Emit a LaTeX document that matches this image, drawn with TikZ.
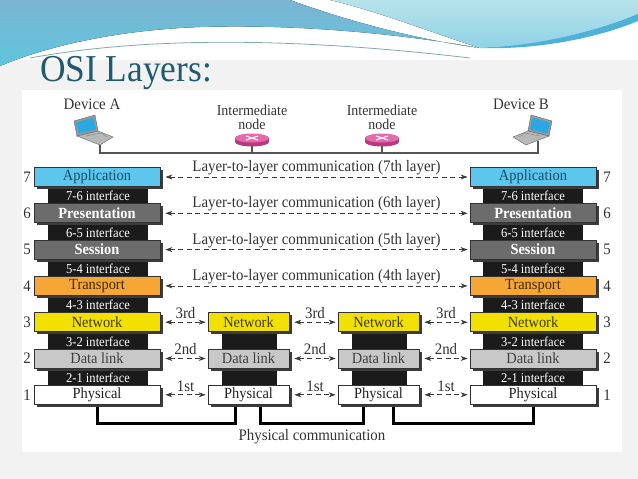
\documentclass[tikz,border=0pt]{standalone}
\usepackage{fontspec}
\setmainfont{Liberation Serif}
\newfontfamily\diag[FakeStretch=0.93]{Liberation Serif}
\usetikzlibrary{arrows.meta,shadows}
\definecolor{bgc}{HTML}{F2F2F2}
\definecolor{titlec}{HTML}{1E5B6E}
\definecolor{appf}{HTML}{5CC6EE}
\definecolor{appt}{HTML}{1D4D62}
\definecolor{presf}{HTML}{6C6C6C}
\definecolor{transf}{HTML}{F5A635}
\definecolor{transt}{HTML}{3A2A10}
\definecolor{netf}{HTML}{F2E000}
\definecolor{nett}{HTML}{3D3A12}
\definecolor{dlf}{HTML}{C8C8C8}
\definecolor{dlt}{HTML}{404040}
\definecolor{pht}{HTML}{222222}
\definecolor{boxline}{HTML}{333333}
\definecolor{shadowc}{HTML}{3C3C3C}
\definecolor{colblack}{HTML}{1B1B1B}
\definecolor{arrc}{HTML}{3A3A3A}
\definecolor{devline}{HTML}{555555}
\definecolor{txtc}{HTML}{333333}
\definecolor{rlight}{HTML}{E46AAE}
\definecolor{rdark}{HTML}{B8397E}
\definecolor{lapgrey}{HTML}{9A9A9A}
\definecolor{lapbase}{HTML}{B8B8B8}
\definecolor{lapblue}{HTML}{2AA8E2}
\definecolor{bannerA}{HTML}{7CB4D4}
\definecolor{bannerB}{HTML}{5EC6DC}
\definecolor{cyanA}{HTML}{B8E4EB}
\definecolor{cyanB}{HTML}{8ED2E6}
\definecolor{stripc}{HTML}{4FB0D8}
\definecolor{swoosh}{HTML}{7FA9B2}
\tikzset{
  lay/.style={draw=boxline, line width=0.8pt, minimum height=19pt, inner sep=0pt,
    font=\diag\fontsize{15.5}{17}\selectfont,
    drop shadow={shadow xshift=2.5pt, shadow yshift=-2.5pt, fill=shadowc, opacity=1}},
  wide/.style={minimum width=126pt},
  narrow/.style={minimum width=81pt},
  appbox/.style={fill=appf, text=appt},
  presbox/.style={fill=presf, text=white, font=\diag\fontsize{15.5}{17}\selectfont\bfseries},
  transbox/.style={fill=transf, text=transt},
  netbox/.style={fill=netf, text=nett},
  dlbox/.style={fill=dlf, text=dlt},
  phbox/.style={fill=white, text=pht},
  iface/.style={text=white, inner sep=0pt, font=\diag\fontsize{13.5}{15}\selectfont},
  lbl/.style={text=txtc, inner sep=0pt, font=\diag\fontsize{16}{17}\selectfont},
  smlbl/.style={text=txtc, inner sep=0pt, font=\diag\fontsize{15}{16}\selectfont},
  darr/.style={{Stealth[length=7pt,width=5pt]}-{Stealth[length=7pt,width=5pt]}, dash pattern=on 5pt off 3.5pt, line width=0.8pt, draw=arrc},
  phys/.style={line width=3pt, draw=black},
  devln/.style={line width=1.2pt, draw=devline},
  router/.pic={
    \fill[rdark] (-17,0) rectangle (17,4);
    \fill[rdark] (0,4) ellipse[x radius=17, y radius=4.5];
    \fill[rlight] (0,0) ellipse[x radius=17, y radius=4.5];
    \draw[white, line width=1pt] (-6,-2) -- (6,2) (-6,2) -- (6,-2);
    \coordinate (-foot) at (0,8);
  },
  laptop/.pic={
    \filldraw[fill=lapgrey, draw=black!60, line width=0.4pt] (-23,-9) -- (-2,-14) -- (-5,-30) -- (-26,-24) -- cycle;
    \fill[lapblue] (-21.5,-11.5) -- (-4,-15.5) -- (-6.5,-27.5) -- (-24,-22.5) -- cycle;
    \filldraw[fill=lapbase, draw=black!60, line width=0.4pt] (-23,-9) -- (-2,-14) -- (13,-8) -- (0,0) -- cycle;
    \draw[black!45, line width=0.5pt] (-14,-9) -- (1,-12) -- (7,-8);
  }
}
\begin{document}
\begin{tikzpicture}[x=1pt,y=-1pt]
\useasboundingbox (0,0) rectangle (638,479);
% slide background
\fill[bgc] (0,0) rectangle (638,479);
\fill[white] (0,0) rectangle (638,60);
\fill[white] (22,90) rectangle (622,452);
% banner
\fill[top color=bannerA, bottom color=bannerB] (0,0) -- (290,0) .. controls (350,22) and (420,40) .. (480,48) .. controls (400,34) and (300,24) .. (200,27) .. controls (120,30) and (50,45) .. (0,66) -- cycle;
\fill[top color=cyanA, bottom color=cyanB] (330,0) -- (638,0) -- (638,18) .. controls (590,36) and (530,47) .. (480,48) .. controls (430,32) and (380,12) .. (330,0) -- cycle;
\fill[stripc] (480,48) .. controls (540,46) and (600,30) .. (638,14) -- (638,21) .. controls (600,37) and (540,50) .. (480,48) -- cycle;
\draw[swoosh, line width=0.8pt] (30,58) .. controls (150,36) and (300,38) .. (470,58);
% title
\node[anchor=base west, inner sep=0pt, text=titlec, font=\diag\fontsize{38}{42}\selectfont] (title) at (40,81) {OSI Layers:};
% devices
\node[lbl] (devA) at (92,104) {Device A};
\node[lbl] (devB) at (521,104) {Device B};
\node[smlbl, anchor=base] (int1a) at (252,115) {Intermediate};
\node[smlbl, anchor=base] (int1b) at (252,129.5) {node};
\node[smlbl, anchor=base] (int2a) at (382,115) {Intermediate};
\node[smlbl, anchor=base] (int2b) at (382,129.5) {node};
\pic (lapA) at (100,145) {laptop};
\pic[xscale=-1] (lapBpic) at (526,145) {laptop};
\coordinate (lapAfoot) at (100,145);
\coordinate (lapBfoot) at (538,140.5);
\pic (r1) at (252,138) {router};
\pic (r2) at (382,138) {router};
\draw[devln] (lapAfoot) -- (lapAfoot |- 0,153) -- (lapBfoot |- 0,153) -- (lapBfoot);
\draw[devln] (r1-foot) -- (r1-foot |- 0,153);
\draw[devln] (r2-foot) -- (r2-foot |- 0,153);
% black interface columns
\fill[colblack] (47.5,180) rectangle (148,392);
\fill[colblack] (221.7,325) rectangle (276.7,392);
\fill[colblack] (351.7,325) rectangle (407.3,392);
\fill[colblack] (482.7,180) rectangle (583.3,392);
% physical communication lines (drawn first, boxes cover their ends)
\coordinate (bl) at (0,423);
\path (97,394.8) coordinate (cL1) (248.5,394.8) coordinate (cA1) (378.5,394.8) coordinate (cB1) (533,394.8) coordinate (cR1);
\draw[phys] (cL1) -- (cL1 |- bl) -| ([xshift=-13.5pt]cA1);
\draw[phys] ([xshift=11.5pt]cA1) -- ([xshift=11.5pt]cA1 |- bl) -| ([xshift=-15.5pt]cB1);
\draw[phys] ([xshift=14.5pt]cB1) -- ([xshift=14.5pt]cB1 |- bl) -| (cR1);
\node[lbl] (physcomm) at (312,437) {Physical communication};
% left stack
\node[lay,wide,appbox] (L7) at (97,177) {Application};
\node[lay,wide,presbox] (L6) at (97,213.3) {Presentation};
\node[lay,wide,presbox] (L5) at (97,249.6) {Session};
\node[lay,wide,transbox] (L4) at (97,285.9) {Transport};
\node[lay,wide,netbox] (L3) at (97,322.2) {Network};
\node[lay,wide,dlbox] (L2) at (97,358.5) {Data link};
\node[lay,wide,phbox] (L1) at (cL1) {Physical};
% intermediate stacks
\node[lay,narrow,netbox] (A3) at (248.5,322.2) {Network};
\node[lay,narrow,dlbox] (A2) at (248.5,358.5) {Data link};
\node[lay,narrow,phbox] (A1) at (cA1) {Physical};
\node[lay,narrow,netbox] (B3) at (378.5,322.2) {Network};
\node[lay,narrow,dlbox] (B2) at (378.5,358.5) {Data link};
\node[lay,narrow,phbox] (B1) at (cB1) {Physical};
% right stack
\node[lay,wide,appbox] (R7) at (533,177) {Application};
\node[lay,wide,presbox] (R6) at (533,213.3) {Presentation};
\node[lay,wide,presbox] (R5) at (533,249.6) {Session};
\node[lay,wide,transbox] (R4) at (533,285.9) {Transport};
\node[lay,wide,netbox] (R3) at (533,322.2) {Network};
\node[lay,wide,dlbox] (R2) at (533,358.5) {Data link};
\node[lay,wide,phbox] (R1) at (cR1) {Physical};
% interface labels
\foreach \s/\y/\t in {a/196.3/7-6, b/232.6/6-5, c/268.9/5-4, d/305.2/4-3, e/341.5/3-2, f/377.8/2-1}{
  \node[iface] (ifL\s) at (98,\y) {\t\ interface};
  \node[iface] (ifR\s) at (533,\y) {\t\ interface};
}
% layer numbers
\foreach \n/\y in {7/177,6/213.3,5/249.6,4/285.9,3/322.2,2/358.5,1/394.8}{
  \node[lbl] (nl\n) at (27,\y) {\n};
  \node[lbl] (nr\n) at (607,\y) {\n};
}
% peer-to-peer arrows (upper layers)
\draw[darr] ([xshift=5pt]L7.east) -- ([xshift=-2pt]R7.west) node[lbl, midway, above=1.5pt] {Layer-to-layer communication (7th layer)};
\draw[darr] ([xshift=5pt]L6.east) -- ([xshift=-2pt]R6.west) node[lbl, midway, above=1.5pt] {Layer-to-layer communication (6th layer)};
\draw[darr] ([xshift=5pt]L5.east) -- ([xshift=-2pt]R5.west) node[lbl, midway, above=1.5pt] {Layer-to-layer communication (5th layer)};
\draw[darr] ([xshift=5pt]L4.east) -- ([xshift=-2pt]R4.west) node[lbl, midway, above=1.5pt] {Layer-to-layer communication (4th layer)};
% lower layers
\foreach \a/\b in {L/A, A/B, B/R}{
  \draw[darr] ([xshift=5pt]\a3.east) -- ([xshift=-2pt]\b3.west) node[lbl, midway, above=3pt] {3rd};
  \draw[darr] ([xshift=5pt]\a2.east) -- ([xshift=-2pt]\b2.west) node[lbl, midway, above=3pt] {2nd};
  \draw[darr] ([xshift=5pt]\a1.east) -- ([xshift=-2pt]\b1.west) node[lbl, midway, above=3pt] {1st};
}
\end{tikzpicture}
\end{document}
